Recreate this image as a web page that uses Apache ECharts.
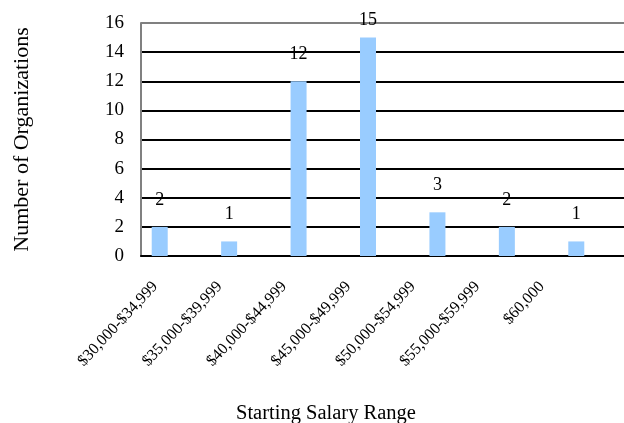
<!DOCTYPE html>
<html>
<head>
<meta charset="utf-8">
<script src="https://cdn.jsdelivr.net/npm/echarts@6/dist/echarts.min.js"></script>
<style>
  html, body { margin: 0; padding: 0; background: #fff; }
  #chart { width: 624px; height: 423px; }
</style>
</head>
<body>
<div id="chart"></div>
<script>
const categories = [
  "$30,000-$34,999",
  "$35,000-$39,999",
  "$40,000-$44,999",
  "$45,000-$49,999",
  "$50,000-$54,999",
  "$55,000-$59,999",
  "$60,000"
];
const organizations = [2, 1, 12, 15, 3, 2, 1];
const yTicks = { min: 0, max: 16, interval: 2 };

const font = "Liberation Serif";
const peak = Math.max(...organizations);

const chart = echarts.init(document.getElementById("chart"));

// black grid lines, the top one is the grey plot border
const gridColors = [];
for (let v = yTicks.min; v <= yTicks.max; v += yTicks.interval) {
  gridColors.push(v === yTicks.max ? "#808080" : "#000");
}

chart.setOption({
  animation: false,
  title: {
    text: "Starting Salary Range",
    left: 236,
    top: 403,
    padding: 0,
    textStyle: { fontFamily: font, fontSize: 20.5, fontWeight: "normal", color: "#000" }
  },
  grid: [
    { left: 141, right: -3, top: 23, bottom: 167, outerBoundsMode: "none" },
    // only carries the rotated category labels
    { left: 123, width: 451, top: 23, bottom: 167, outerBoundsMode: "none" }
  ],
  xAxis: [
    {
      type: "category",
      data: categories,
      gridIndex: 0,
      axisLine: { lineStyle: { color: "#000", width: 2 } },
      axisTick: { show: false },
      axisLabel: { show: false }
    },
    {
      type: "category",
      data: categories,
      gridIndex: 1,
      axisLine: { show: false },
      axisTick: { show: false },
      axisLabel: {
        rotate: 47,
        margin: 28,
        interval: 0,
        fontFamily: font,
        fontSize: 16,
        color: "#000"
      }
    }
  ],
  yAxis: [
    {
      type: "value",
      gridIndex: 0,
      min: yTicks.min,
      max: yTicks.max,
      interval: yTicks.interval,
      name: "Number of Organizations",
      nameLocation: "middle",
      nameGap: 108,
      nameTextStyle: { fontFamily: font, fontSize: 22, color: "#000" },
      axisLine: { show: true, lineStyle: { color: "#808080", width: 2 } },
      axisTick: { show: false },
      axisLabel: { margin: 17, fontFamily: font, fontSize: 19, color: "#000" },
      splitLine: { lineStyle: { color: gridColors, width: 2 } }
    },
    { type: "value", gridIndex: 1, show: false, min: 0, max: 16 }
  ],
  series: [
    {
      type: "bar",
      xAxisIndex: 0,
      yAxisIndex: 0,
      barWidth: 16,
      barGap: "100%",
      itemStyle: { color: "#99CCFF" },
      label: {
        show: true,
        position: "top",
        distance: 18,
        fontFamily: font,
        fontSize: 18,
        color: "#000"
      },
      data: organizations.map(v => (v === peak ? { value: v, label: { distance: 8 } } : v))
    },
    {
      // empty companion series, keeps the bar left of the category centre
      type: "bar",
      xAxisIndex: 0,
      yAxisIndex: 0,
      barWidth: 16,
      data: []
    }
  ]
});
</script>
</body>
</html>
